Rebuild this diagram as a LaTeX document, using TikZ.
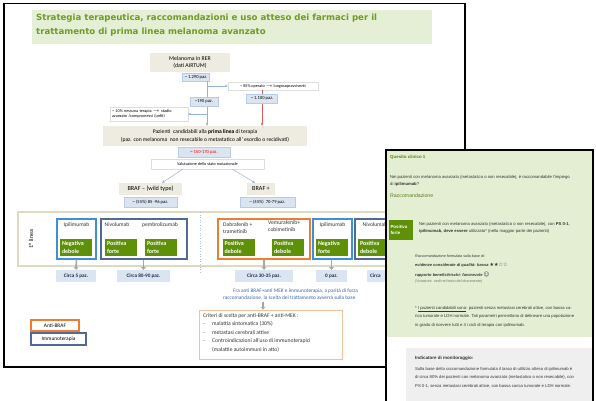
\documentclass[tikz,border=0pt]{standalone}
\usepackage{fontspec}
\setmainfont{Carlito}
\newfontfamily\titlefont{DejaVu Sans}
\newfontfamily\cardfont{Liberation Sans}
\newfontfamily\symfont{DejaVu Sans}
\usetikzlibrary{arrows.meta,shadows}

\definecolor{titlegreen}{HTML}{6F9A26}
\definecolor{titlebg}{HTML}{E4EFD5}
\definecolor{beigefill}{HTML}{EEECE1}
\definecolor{bluefill}{HTML}{DBE5F1}
\definecolor{blueline}{HTML}{B8CCE4}
\definecolor{arrowblue}{HTML}{95B3D7}
\definecolor{arrowred}{HTML}{E05A5A}
\definecolor{noteline}{HTML}{DDDDDD}
\definecolor{paneltan}{HTML}{DDD9C3}
\definecolor{ipiblue}{HTML}{3F8FD8}
\definecolor{niveblue}{HTML}{50699A}
\definecolor{brafor}{HTML}{ED7D31}
\definecolor{critline}{HTML}{F4C09A}
\definecolor{gradegreen}{HTML}{5E9108}
\definecolor{cnttext}{HTML}{1F2D4D}
\definecolor{downgrey}{HTML}{A6A6A6}
\definecolor{notetext}{HTML}{3C64A8}
\definecolor{cardgreen}{HTML}{E3EED3}
\definecolor{cardgrey}{HTML}{EFEFEF}
\definecolor{cardolive}{HTML}{5C7D1C}
\definecolor{cardtext}{HTML}{333333}

\begin{document}
\begin{tikzpicture}[x=1pt,y=-1pt,
  beigebox/.style={fill=beigefill, draw=none, inner sep=0pt, align=center},
  bluebox/.style={fill=bluefill, draw=blueline, line width=0.4pt, inner sep=0pt,
    font=\fontsize{4.6}{5.5}\selectfont},
  notebox/.style={fill=white, draw=noteline, line width=0.4pt, inner sep=0pt,
    font=\fontsize{4.2}{5.6}\selectfont},
  drugframe/.style={draw, line width=1.1pt, inner sep=0pt, minimum height=40pt},
  gradebox/.style={fill=gradegreen, text=white, inner sep=0pt, align=left,
    minimum width=32pt, minimum height=17pt, text width=28pt,
    font=\bfseries\fontsize{6}{7.6}\selectfont},
  drugname/.style={inner sep=0pt, font=\fontsize{5.6}{7.2}\selectfont, text=black!80},
  cntbox/.style={fill=bluefill, inner sep=0pt, minimum height=12pt, text=cnttext,
    font=\bfseries\fontsize{5.2}{6}\selectfont},
  linkarrow/.style={draw=arrowblue, line width=0.5pt, -{Stealth[length=3pt,width=2.6pt]}},
  downarrow/.style={draw=downgrey, line width=1.6pt, -{Triangle[length=2.6pt,width=4.6pt]}},
  legendbox/.style={draw, line width=1.1pt, fill=white, inner sep=0pt,
    font=\fontsize{5.4}{6}\selectfont},
  cardtxt/.style={inner sep=0pt, anchor=north west, align=left, text=cardtext,
    font=\cardfont\fontsize{4.2}{7}\selectfont}]

\useasboundingbox (0,0) rectangle (596,400);
\fill[white] (0,0) rectangle (596,400);

% ---------------- slide ----------------
\draw[black, line width=1.5pt] (4,3.5) rectangle (465,367);
\fill[titlebg] (32,10) rectangle (432,43.5);
\node[anchor=north west, inner sep=0pt, align=left, text=titlegreen,
  font=\titlefont\bfseries\fontsize{8.6}{14}\selectfont] (title) at (36,14)
  {Strategia terapeutica, raccomandazioni e uso atteso dei farmaci per il\\
   trattamento di prima linea melanoma avanzato};

% top of the flow
\node[beigebox, minimum width=80pt, minimum height=19pt,
  font=\fontsize{5.8}{7.2}\selectfont] (mel) at (190,62.5)
  {Melanoma in RER\\(dati AIRTUM)};
\node[bluebox, minimum width=27pt, minimum height=8pt] (n1290) at (196,77) {\~{} 1.290 paz.};
\coordinate (split) at (207,81);
\node[notebox, minimum width=90pt, minimum height=8pt] (op) at (273,86)
  {\~{} 85\% operato $\rightarrow$ lungosopravviventi};
\node[notebox, minimum width=78pt, minimum height=14pt, align=left,
  text width=74pt] (unfit) at (149,114)
  {\~{} 10\% nessuna terapia $\rightarrow$ stadio\\avanzato /compromessi (unfit)};

\node[beigebox, minimum width=204pt, minimum height=20pt,
  font=\fontsize{5.6}{7.6}\selectfont] (pz) at (205,136)
  {Pazienti \ candidabili alla \textbf{prima linea} di terapia\\
   (paz. con melanoma \ non resecabile o metastatico all' esordio o recidivati)};

% connectors of the first split
\draw[linkarrow] (split) -- (split |- pz.north);
\draw[linkarrow] (split |- op.west) -- (op.west);
\draw[linkarrow] (split |- unfit.east) -- (unfit.east);
\draw[draw=arrowred, line width=0.7pt, -{Stealth[length=3pt,width=2.6pt]}]
  (op.south -| 262,0) -- (pz.north -| 262,0);
\node[bluebox, minimum width=28pt, minimum height=9pt] (n190) at (204,101.5) {\~{}190 paz.};
\node[bluebox, minimum width=31pt, minimum height=9pt] (n1100) at (262,98.5) {\~{} 1.100 paz.};

\node[bluebox, minimum width=52pt, minimum height=10pt] (n150) at (204,152)
  {\~{} \textcolor{red}{150-170 paz.}};
\node[notebox, minimum width=113pt, minimum height=10pt] (val) at (207.5,164)
  {Valutazione dello stato mutazionale};

\node[beigebox, minimum width=63pt, minimum height=12pt,
  font=\fontsize{6.2}{7}\selectfont] (brafm) at (150.5,189) {BRAF -- (wild type)};
\node[beigebox, minimum width=28pt, minimum height=12pt,
  font=\fontsize{6.2}{7}\selectfont] (brafp) at (261,189) {BRAF +};
\draw[linkarrow] (183,169) -- (brafm.north east -| 162,0);
\draw[linkarrow] (232,169) -- (brafp.north -| 255,0);
\node[bluebox, minimum width=53pt, minimum height=10pt] (n55) at (150.5,202) {\~{} (55\%) 85 -96 paz.};
\node[bluebox, minimum width=55pt, minimum height=10pt] (n45) at (267.5,202) {\~{} (45\%) \ 70-79 paz.};

% first-line panel
\node[draw=paneltan, line width=1.2pt, minimum width=437pt, minimum height=54pt,
  inner sep=0pt] (panel) at (236.5,239) {};
\node[rotate=90, inner sep=0pt, font=\bfseries\fontsize{6}{7}\selectfont, text=black!70]
  (lin) at (31,239) {1° linea};
\draw[draw=arrowblue!80, line width=0.6pt, dotted] (200,212) -- (200,274);

\node[drugframe, draw=ipiblue, minimum width=39pt] (ipia) at (76.5,239) {};
\node[drugframe, draw=niveblue, minimum width=86pt] (niva) at (144,239) {};
\node[drugframe, draw=brafor, minimum width=92pt] (dabr) at (264,239) {};
\node[drugframe, draw=ipiblue, minimum width=39pt] (ipib) at (332.5,239) {};
\node[drugframe, draw=niveblue, minimum width=86pt] (nivb) at (398,239) {};

\node[drugname] (t1) at (76.5,225) {Ipilimumab};
\node[drugname] (t2) at (117,225) {Nivolumab};
\node[drugname] (t3) at (160,225) {pembrolizumab};
\node[drugname, anchor=north west, align=left] (t4) at (223,222) {Dabrafenib +\\trametinib};
\node[drugname, anchor=north west, align=left] (t5) at (268,220.5) {Vemurafenib+\\cobimetinib};
\node[drugname] (t6) at (332.5,225) {Ipilimumab};
\node[drugname] (t7) at (375,225) {Nivolumab};

\node[gradebox] (g1) at (76,247.5) {Negativa\\debole};
\node[gradebox] (g2) at (121,247.5) {Positiva\\forte};
\node[gradebox] (g3) at (161,247.5) {Positiva\\forte};
\node[gradebox] (g4) at (238.5,247.5) {Positiva\\debole};
\node[gradebox] (g5) at (288,247.5) {Positiva\\debole};
\node[gradebox] (g6) at (332,247.5) {Negativa\\forte};
\node[gradebox] (g7) at (374,247.5) {Positiva\\debole};

% expected patients per option
\node[cntbox, minimum width=40pt] (c1) at (76,276) {Circa 5 paz.};
\node[cntbox, minimum width=53pt] (c2) at (143.5,276) {Circa 80-90 paz.};
\node[cntbox, minimum width=58pt] (c3) at (264,276) {Circa 30-35 paz.};
\node[cntbox, minimum width=31pt] (c4) at (331.5,276) {0 paz.};
\node[cntbox, minimum width=55pt, anchor=west, text width=49pt, align=left] (c5) at (367,276) {Circa};

\draw[downarrow] (ipia.south) -- (c1.north);
\draw[downarrow] (ipia.south -| c2.north) -- (c2.north);
\draw[downarrow] (dabr.south) -- (c3.north);
\draw[downarrow] (ipib.south -| c4.north) -- (c4.north);

\node[anchor=north west, inner sep=0pt, align=left, text=notetext,
  font=\fontsize{5.3}{6.8}\selectfont] (choice) at (223,288.5)
  {\hspace*{10pt}Fra anti BRAF+anti MEK e immunoterapia, a parità di forza\\
   raccomandazione, la scelta del trattamento avverrà sulla base};
\coordinate (choicefoot) at (263,301.5);

\node[draw=critline, line width=0.8pt, fill=white, minimum width=143pt,
  minimum height=49pt, inner sep=0pt,
  drop shadow={opacity=0.25, shadow xshift=1.2pt, shadow yshift=-1.2pt}]
  (crit) at (270.5,334.5) {};
\node[anchor=north west, inner sep=0pt, align=left, text=black!80,
  font=\fontsize{5.6}{8.5}\selectfont] (crittext) at (203,313)
  {Criteri di scelta per anti-BRAF + anti-MEK :\\
   \makebox[9pt][l]{-}malattia sintomatica (30\%)\\
   \makebox[9pt][l]{-}metastasi cerebrali attive\\
   \makebox[9pt][l]{-}Controindicazioni all’uso di immunoterapici\\
   \makebox[9pt][l]{}(malattie autoimmuni in atto)};
\draw[downarrow, line width=1.2pt] (choicefoot) -- (crit.north -| choicefoot);

% legend
\node[legendbox, draw=brafor, minimum width=48pt, minimum height=11pt] (lgbraf) at (55,325.5) {Anti-BRAF};
\node[legendbox, draw=niveblue, minimum width=55pt, minimum height=12pt] (lgimm) at (58.5,339) {Immunoterapia};

% ---------------- recommendation card ----------------
\fill[cardgreen] (386,150) rectangle (593,337);
\fill[white] (386,337) rectangle (593,402);
\fill[cardgrey] (406,348) rectangle (593,402);
\draw[black, line width=1.5pt] (386,403) -- (386,150) -- (593,150) -- (593,403);

\node[cardtxt, text=cardolive, font=\cardfont\bfseries\fontsize{4.4}{6}\selectfont] (q1) at (390,155) {Quesito clinico 1};
\node[cardtxt] (qtext) at (390,175)
  {Nei pazienti con melanoma avanzato (metastatico o non resecabile), è raccomandabile l’impiego\\
   di \textbf{ipilimumab}?};
\node[cardtxt, text=cardolive, font=\cardfont\fontsize{5.2}{6}\selectfont] (rac) at (390,193.5) {Raccomandazione};
\node[fill=gradegreen, text=white, inner sep=0pt, minimum width=24pt, minimum height=20pt,
  text width=21pt, align=left, font=\cardfont\bfseries\fontsize{4.4}{6}\selectfont]
  (gcard) at (401,230) {Positiva\\forte};
\node[cardtxt] (rtext) at (419,222)
  {Nei pazienti con melanoma avanzato (metastatico o non resecabile), con \textbf{PS 0-1},\\
   \textbf{ipilimumab, deve essere} utilizzato* (nella maggior parte dei pazienti)};
\node[cardtxt, font=\cardfont\itshape\fontsize{3.7}{6}\selectfont] (basis) at (415,254.5)
  {Raccomandazione formulata sulla base di:};
\node[cardtxt, font=\cardfont\bfseries\itshape\fontsize{4}{6}\selectfont] (qual) at (415,263)
  {evidenze considerate di qualità: bassa {\symfont\upshape\fontsize{5}{6}\selectfont ★★☆☆}};
\node[cardtxt, font=\cardfont\bfseries\itshape\fontsize{4}{6}\selectfont] (bal) at (415,272)
  {rapporto benefici/rischi: favorevole {\symfont\upshape\fontsize{5.5}{6}\selectfont ☺}};
\node[cardtxt, text=black!55, font=\cardfont\fontsize{3.7}{6}\selectfont] (vote) at (415,279.5)
  {(Votazioni: vedi nel testo del documento)};
\node[cardtxt, font=\cardfont\fontsize{4.2}{8.5}\selectfont] (cand) at (415,306)
  {* \underline{I pazienti candidabili sono}: pazienti senza metastasi cerebrali attive, con bassa ca-\\
   rica tumorale e LDH normale. Tali parametri permettono di delineare una popolazione\\
   in grado di ricevere tutti e 4 i cicli di terapia con ipilimumab.};
\node[cardtxt, font=\cardfont\bfseries\fontsize{4.5}{6}\selectfont] (ind) at (415,356) {Indicatore di monitoraggio:};
\node[cardtxt, font=\cardfont\fontsize{4.2}{8.5}\selectfont] (indtext) at (415,367)
  {Sulla base della raccomandazione formulata il tasso di utilizzo atteso di ipilimumab è\\
   di circa 80\% dei pazienti con melanoma avanzato (metastatico o non resecabile), con\\
   PS 0-1, senza metastasi cerebrali attive, con bassa carica tumorale e LDH normale.};

\end{tikzpicture}
\end{document}
